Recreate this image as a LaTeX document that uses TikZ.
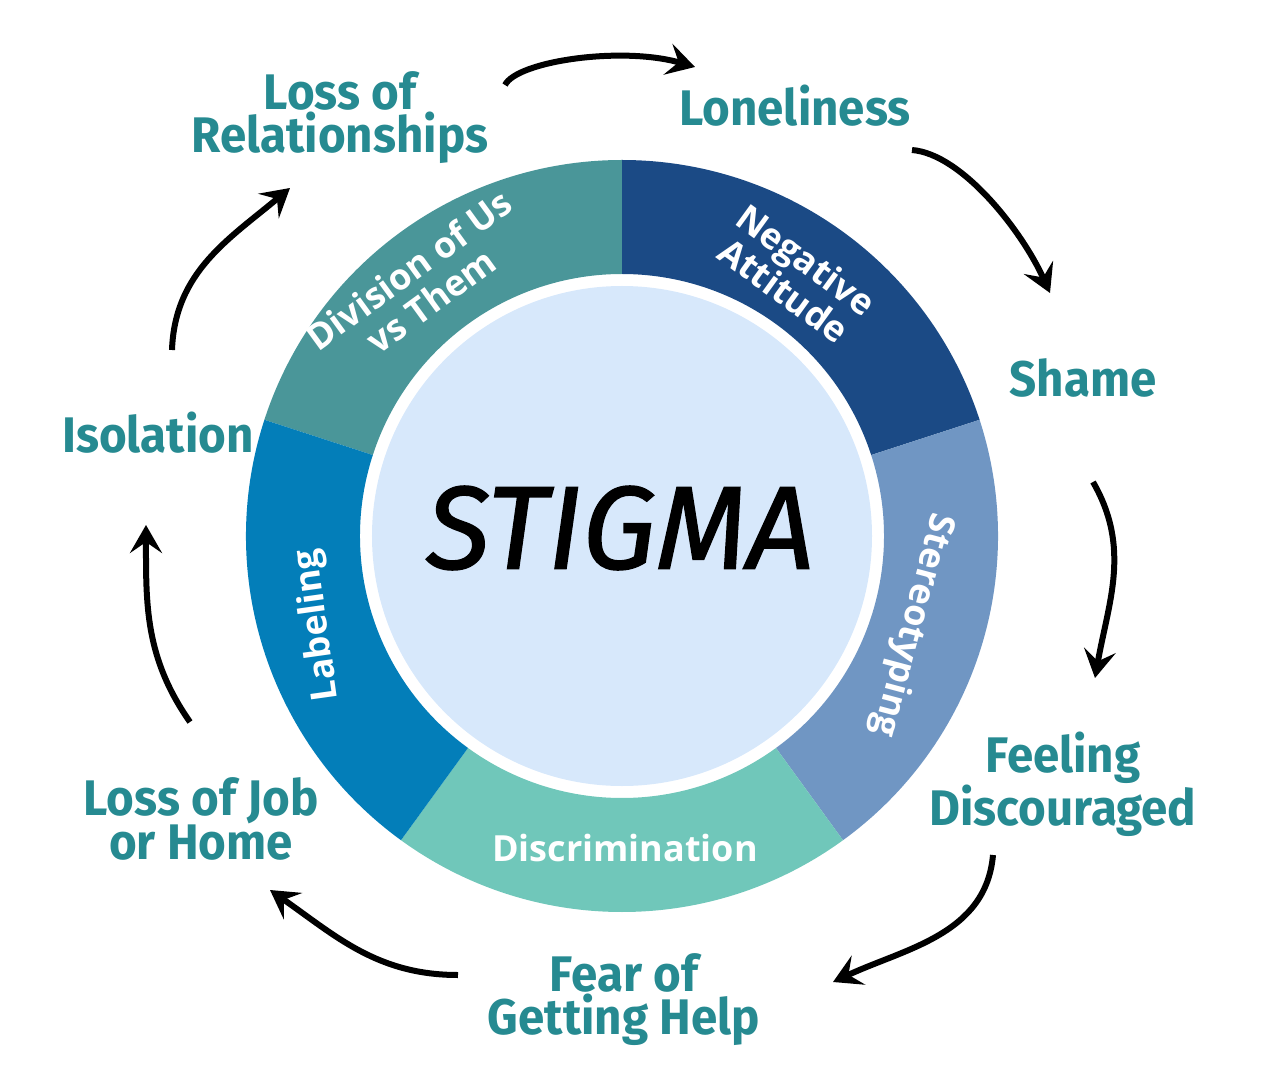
\documentclass[tikz,border=0pt]{standalone}
\usepackage{fontspec}
\usetikzlibrary{positioning,arrows.meta}
\newfontfamily\labelfont[FakeStretch=0.95]{Fira Sans}
\newfontfamily\segfont{Open Sans}
\newfontfamily\stigmafont[FakeBold=1.2]{Fira Sans}
\definecolor{labelteal}{HTML}{268A91}
\definecolor{divcol}{HTML}{4A9699}
\definecolor{negcol}{HTML}{1B4A85}
\definecolor{sterecol}{HTML}{7096C3}
\definecolor{discol}{HTML}{70C7BA}
\definecolor{labcol}{HTML}{037EB9}
\definecolor{corecol}{HTML}{D7E8FB}
\def\ringout{376}
\def\ringin{262}
\def\core{(0,0) circle (250)}
\def\bbox{(-622,-537) rectangle (646,536)}

\begin{document}
\begin{tikzpicture}[x=1pt,y=1pt,
  outer/.style={text=labelteal,align=center,inner sep=0pt,font={\labelfont\bfseries\fontsize{50}{43}\selectfont}},
  seg/.style={text=white,align=center,inner sep=0pt,font={\segfont\bfseries\fontsize{36}{38}\selectfont}},
  flow/.style={line width=6pt,-{Stealth[length=28pt,width=32pt,inset=11pt]}}]
 \useasboundingbox \bbox;
 	\fill[divcol] (162:\ringout) arc (162:90:\ringout) -- (90:\ringin) arc (90:162:\ringin) -- cycle;
 	\fill[negcol] (90:\ringout) arc (90:18:\ringout) -- (18:\ringin) arc (18:90:\ringin) -- cycle;
 	\fill[sterecol] (18:\ringout) arc (18:-54:\ringout) -- (-54:\ringin) arc (-54:18:\ringin) -- cycle;
 	\fill[discol] (-54:\ringout) arc (-54:-126:\ringout) -- (-126:\ringin) arc (-126:-54:\ringin) -- cycle;
 	\fill[labcol] (-126:\ringout) arc (-126:-198:\ringout) -- (-198:\ringin) arc (-198:-126:\ringin) -- cycle;
 	\fill[corecol] \core;
  \node[font=\stigmafont\itshape\fontsize{118}{118}\selectfont] (stigma) at (-2,8) {STIGMA};
  \node[seg,rotate=-36] (negative) at (173,261) {Negative\\Attitude};
  \node[seg,rotate=-105] (stereo) at (290,-89) {Stereotyping};
  \node[seg] (discrim) at (3,-312) {Discrimination};
  \node[seg,rotate=98] (labeling) at (-304,-89) {Labeling};
  \node[seg,rotate=36] (division) at (-202,251) {Division of Us\\vs Them};
  \node[outer] (relations) at (-282,418) {Loss of\\Relationships};
  \node[outer] (lonely) at (173,430) {Loneliness};
  \node[outer] (shame) at (461,158) {Shame};
  \node[outer] (discour) at (441,-248) {Feeling\\Discouraged};
  \node[outer] (fear) at (2,-464) {Fear of\\Getting Help};
  \node[outer] (jobhome) at (-421,-283) {Loss of Job\\or Home};
  \node[outer] (isolation) at (-464,103) {Isolation};
  \coordinate (relout) at (-117,451);
  \coordinate (lonin) at (73,469);
  \coordinate (lonout) at (290,386);
  \coordinate (shamein) at (428,243);
  \coordinate (shameout) at (471,54);
  \coordinate (discin) at (473,-142);
  \coordinate (discout) at (371,-319);
  \coordinate (fearin) at (211,-446);
  \coordinate (fearout) at (-164,-439);
  \coordinate (jobin) at (-352,-354);
  \coordinate (jobout) at (-432,-186);
  \coordinate (isoin) at (-476,11);
  \coordinate (isoout) at (-450,186);
  \coordinate (relin) at (-332,348);
  \draw[flow] (relout) .. controls (-105,475) and (0,490) .. (lonin);
  \draw[flow] (lonout) .. controls (340,382) and (400,305) .. (shamein);
  \draw[flow] (shameout) to[out=-60,in=80] (discin);
  \draw[flow] (discout) to[out=-95,in=25] (fearin);
  \draw[flow] (fearout) to[out=180,in=-35] (jobin);
  \draw[flow] (jobout) to[out=125,in=-90] (isoin);
  \draw[flow] (isoout) to[out=88,in=-140] (relin);
\end{tikzpicture}
\end{document}
